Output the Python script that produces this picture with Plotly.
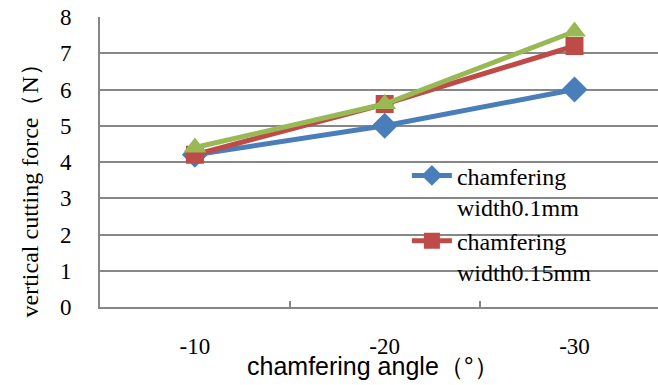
import plotly.graph_objects as go

# Chamfering angle categories and vertical cutting force (N) per chamfer width
angles = ["-10", "-20", "-30"]
force_w01 = [4.2, 5.0, 6.0]
force_w015 = [4.2, 5.6, 7.2]
force_w02 = [4.4, 5.6, 7.6]
y_ticks = [0, 1, 2, 3, 4, 5, 6, 7, 8]

names = ["chamfering<br>width0.1mm", "chamfering<br>width0.15mm", "chamfering<br>width0.2mm"]
colors = ["#4A7EBB", "#BE4B48", "#98B954"]
symbols = ["diamond", "square", "triangle-up"]
sizes = [20, 18, 20]
series = [force_w01, force_w015, force_w02]
show_in_legend = [True, True, False]

serif = "Liberation Serif"
sans = "Liberation Sans"

fig = go.Figure()
for name, vals, col, sym, sz, show in zip(names, series, colors, symbols, sizes, show_in_legend):
    fig.add_trace(go.Scatter(
        x=angles, y=vals, name=name, mode="lines+markers",
        line=dict(color=col, width=5),
        marker=dict(symbol=sym, size=sz, color=col),
        showlegend=show, cliponaxis=False,
    ))

# white panel behind the legend, over the gridlines
fig.add_shape(type="rect", xref="paper", yref="y", x0=0.448, x1=1.0, y0=0.15, y1=3.85,
              fillcolor="white", line=dict(width=0), layer="between")

fig.update_layout(
    width=658, height=385,
    margin=dict(l=100, r=0, t=17, b=78),
    paper_bgcolor="white", plot_bgcolor="white",
    font=dict(family=serif, size=23, color="black"),
    showlegend=True,
    legend=dict(
        x=0.55, y=0.53, xanchor="left", yanchor="top",
        bgcolor="rgba(0,0,0,0)", valign="top",
        font=dict(family=serif, size=24, color="black"),
        itemwidth=40, tracegroupgap=0,
    ),
    xaxis=dict(
        type="category", categoryorder="array", categoryarray=angles,
        range=[-0.5, 2.44], showgrid=False,
        showline=True, linecolor="#878787", linewidth=2,
        ticks="inside", tickson="boundaries", ticklen=6, tickcolor="#878787", tickwidth=1.5,
        ticklabelstandoff=17,
        tickfont=dict(family=serif, size=23, color="black"),
    ),
    yaxis=dict(
        range=[0, 8], tickvals=y_ticks, ticktext=[str(v) for v in y_ticks],
        showgrid=True, gridcolor="#878787", gridwidth=1.5,
        showline=True, linecolor="#878787", linewidth=2,
        zeroline=False, ticks="", ticklabelstandoff=22,
        tickfont=dict(family=serif, size=23, color="black"),
    ),
    annotations=[
        dict(text="vertical cutting force（N）", xref="paper", yref="paper",
             x=-0.125, y=0.42, xanchor="center", yanchor="middle", textangle=-90,
             showarrow=False, font=dict(family=serif, size=24, color="black")),
        dict(text="chamfering angle（°）", xref="paper", yref="paper",
             x=0.49, y=-0.205, xanchor="center", yanchor="middle",
             showarrow=False,
             font=dict(family=sans, size=25, color="black")),
    ],
)

fig.write_html("out.html")
